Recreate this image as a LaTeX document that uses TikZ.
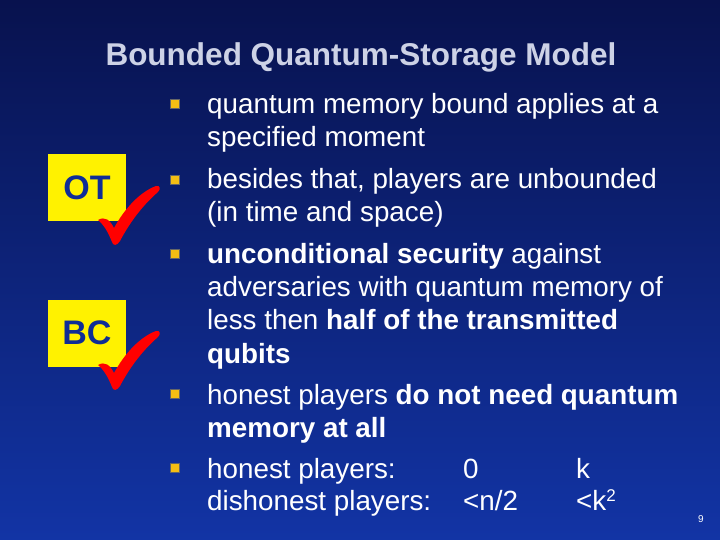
\documentclass[tikz,border=0pt]{standalone}
\usepackage{fontspec}
\setmainfont{Liberation Sans}
\begin{document}
\begin{tikzpicture}[x=1pt,y=-1pt,
  txt/.style={anchor=base west,inner sep=0pt,text=white,font=\fontsize{27.8}{32}\selectfont},
  bul/.style={fill=bulletc,minimum size=9pt,inner sep=0pt,draw=black!60,line width=0.3pt},
  lbox/.style={fill=yellow,minimum width=78pt,minimum height=67pt,inner sep=0pt,text=boxtext,font=\fontsize{34}{38}\selectfont\bfseries},
  chk/.style={fill=red,draw=none}]
\definecolor{bgtop}{RGB}{8,18,78}
\definecolor{bgbot}{RGB}{18,52,165}
\definecolor{bulletc}{RGB}{245,190,20}
\definecolor{boxtext}{RGB}{15,45,150}
\definecolor{titlec}{RGB}{205,210,230}
\shade[top color=bgtop,bottom color=bgbot] (0,0) rectangle (720,540);
\useasboundingbox (0,0) rectangle (720,540);
\node[anchor=base,text=titlec,font=\fontsize{31.5}{34}\selectfont\bfseries] (title) at (361,66) {Bounded Quantum-Storage Model};
\foreach \n/\y in {b1/104,b2/180,b3/254,b4/394,b5/468}{\node[bul] (\n) at (175,\y) {};}
\node[txt] (l1) at (207,114) {quantum memory bound applies at a};
\node[txt] (l2) at (207,147) {specified moment};
\node[txt] (l3) at (207,189) {besides that, players are unbounded};
\node[txt] (l4) at (207,222) {(in time and space)};
\node[txt] (l5) at (207,263) {\textbf{unconditional security} against};
\node[txt] (l6) at (207,296) {adversaries with quantum memory of};
\node[txt] (l7) at (207,329) {less then \textbf{half of the transmitted}};
\node[txt] (l8) at (207,363) {\textbf{qubits}};
\node[txt] (l9) at (207,404) {honest players \textbf{do not need quantum}};
\node[txt] (l10) at (207,437) {\textbf{memory at all}};
\node[txt] (l11) at (207,478) {honest players:};
\node[txt] (l11b) at (463,478) {0};
\node[txt] (l11c) at (576,478) {k};
\node[txt] (l12) at (207,510) {dishonest players:};
\node[txt] (l12b) at (463,510) {<n/2};
\node[txt] (l12c) at (576,510) {<k\raisebox{0.6ex}{\fontsize{17}{20}\selectfont 2}};
\node[anchor=base,text=white,font=\fontsize{10}{12}\selectfont] (pg) at (701,522) {9};
\node[lbox] (ot) at (87,188) {OT};
\node[lbox] (bc) at (87,333) {BC};
\foreach \dy in {0,145}{
\fill[chk] (98,220+\dy) .. controls (105,216+\dy) and (110,220+\dy) .. (114,228+\dy)
  .. controls (125,208+\dy) and (140,192+\dy) .. (156,186+\dy)
  .. controls (160,185+\dy) and (161,189+\dy) .. (158,192+\dy)
  .. controls (143,205+\dy) and (130,222+\dy) .. (120,241+\dy)
  .. controls (117,246+\dy) and (113,246+\dy) .. (112,242+\dy)
  .. controls (108,232+\dy) and (104,225+\dy) .. (98,220+\dy) -- cycle;}
\end{tikzpicture}
\end{document}
